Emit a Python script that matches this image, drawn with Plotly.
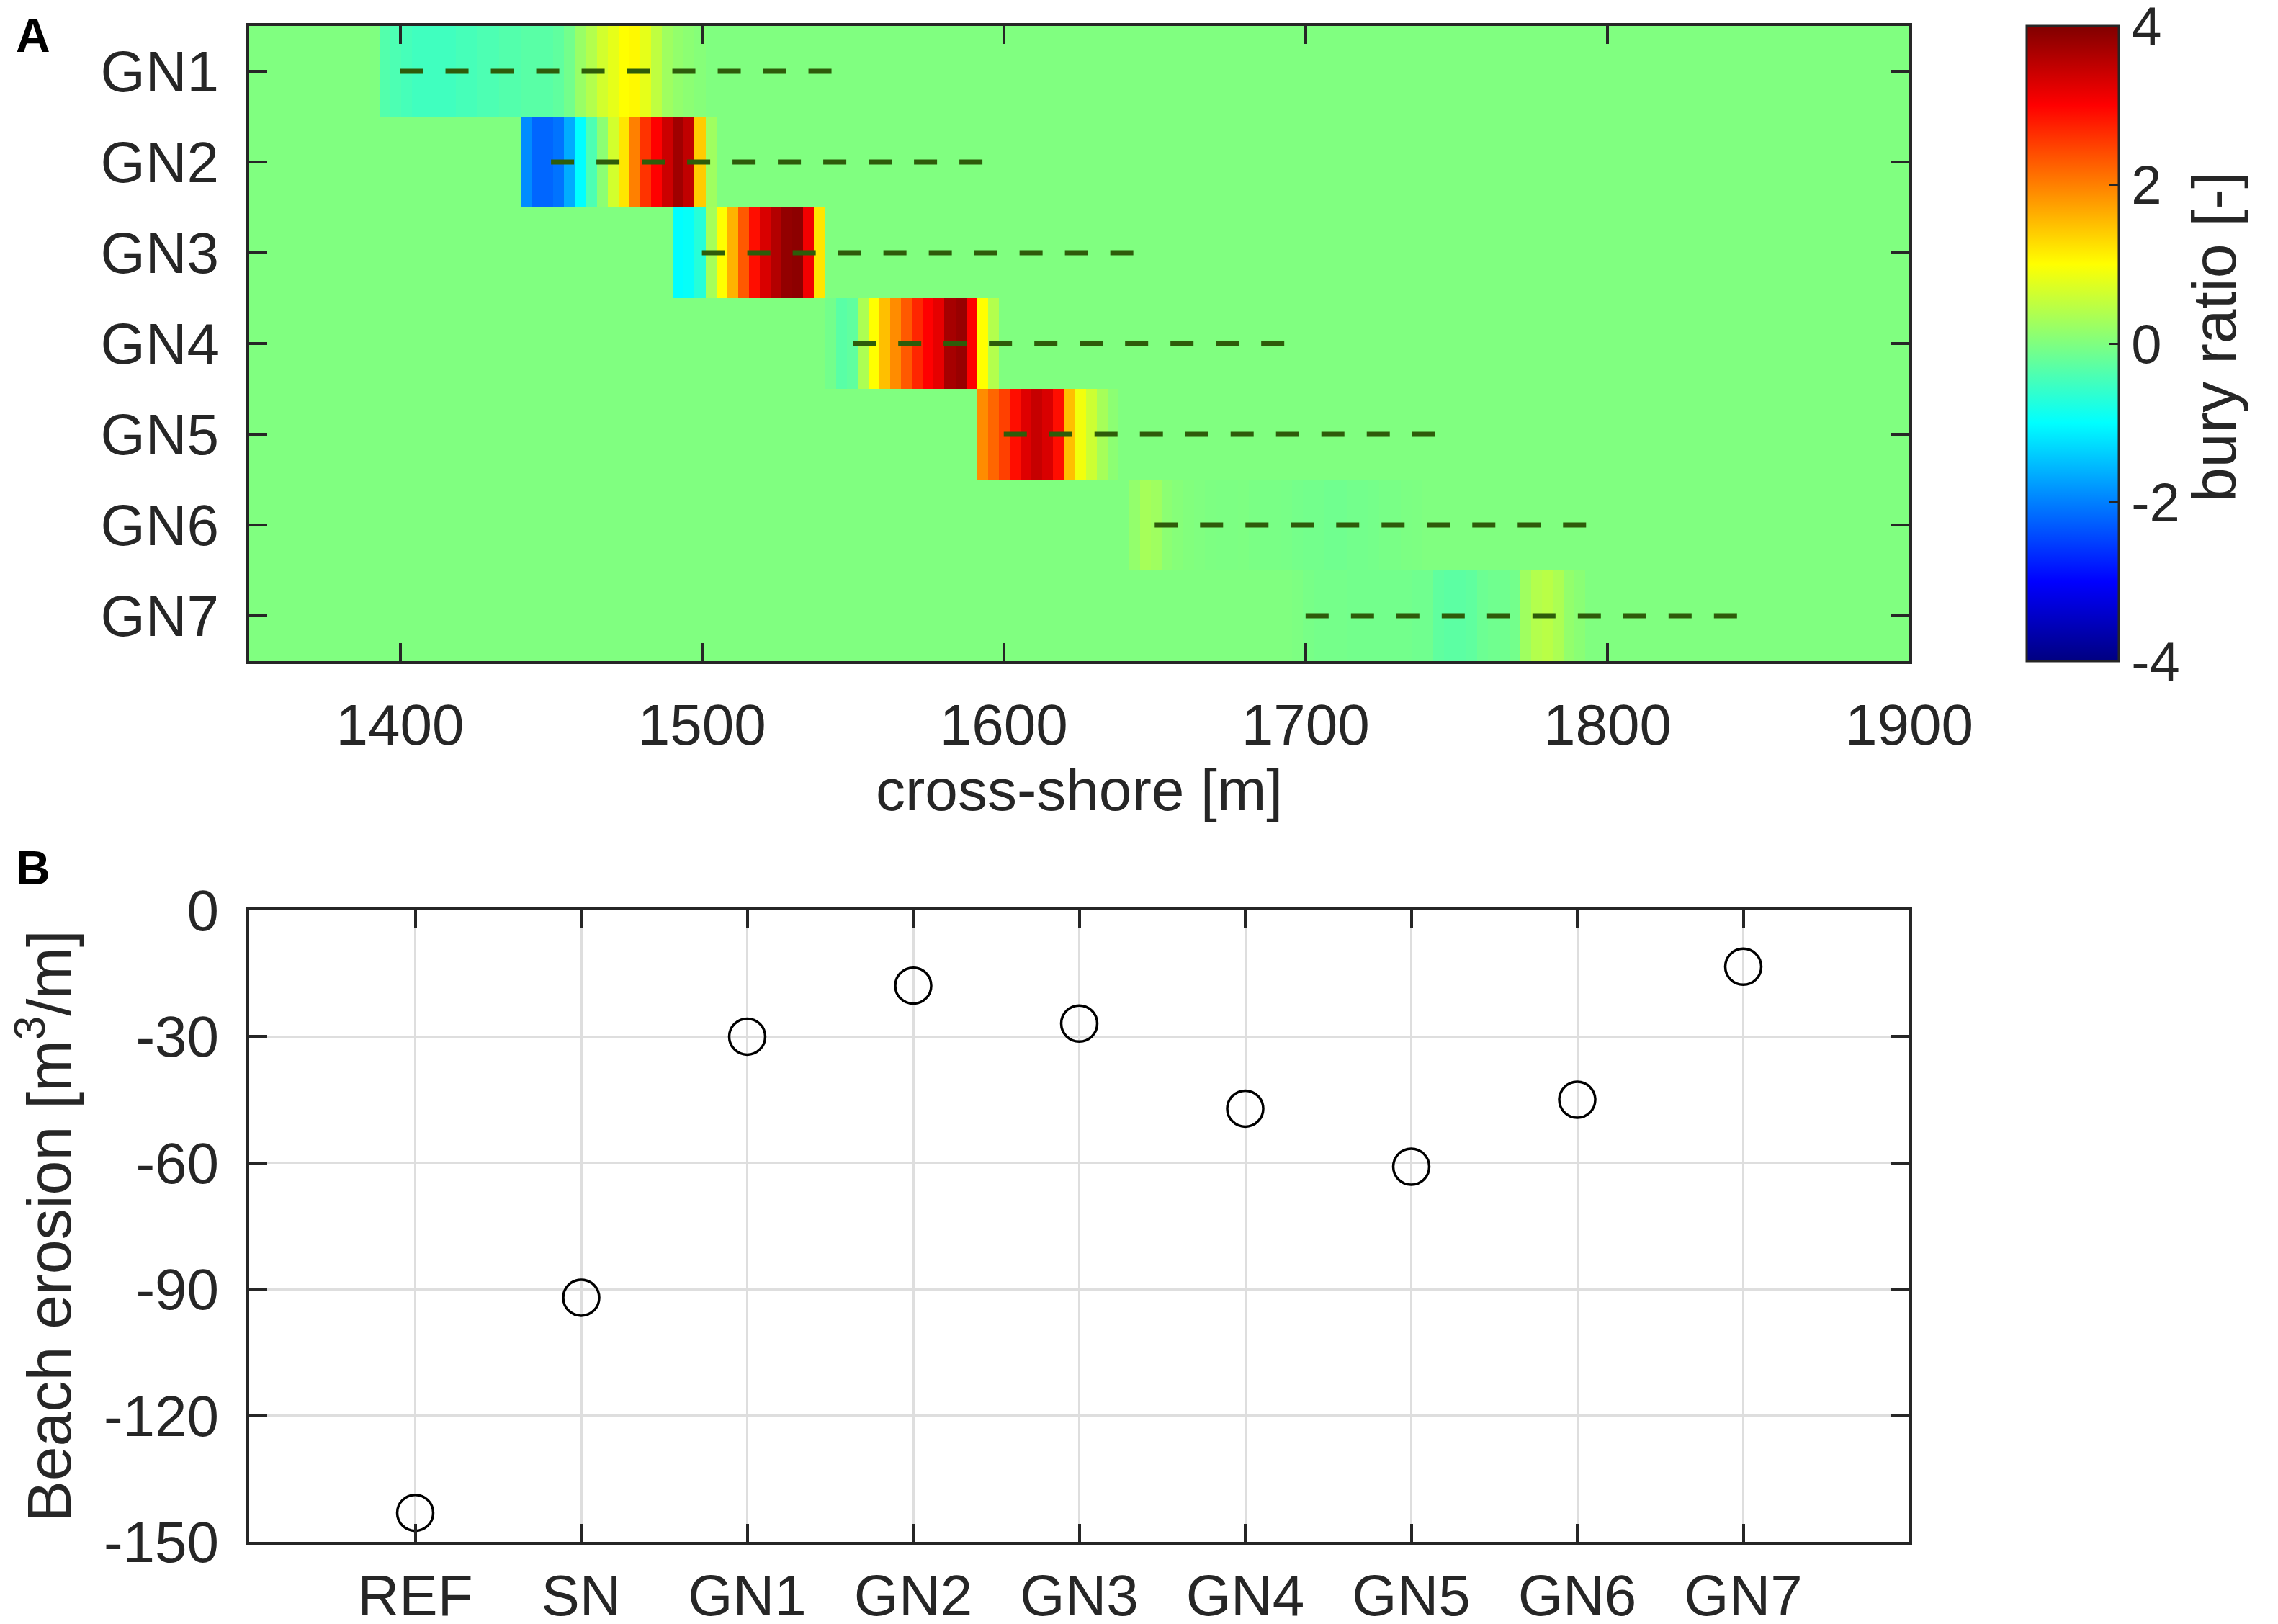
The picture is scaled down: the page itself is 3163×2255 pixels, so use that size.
import numpy as np
import plotly.graph_objects as go

# ---------------- Panel A data: bury ratio profiles ----------------
groins = ["GN1", "GN2", "GN3", "GN4", "GN5", "GN6", "GN7"]
grid_x0 = 1350.0      # cross-shore grid origin [m]
grid_dx = 3.6         # cross-shore cell size [m]
grid_n = 153          # number of cells
row_start = [1393.2, 1440.0, 1490.4, 1540.8, 1591.2, 1641.6, 1695.6]

gn1_ratio = [-0.35, -0.4, -0.45, -0.5, -0.5, -0.5, -0.5, -0.45, -0.45, -0.4,
             -0.4, -0.35, -0.35, -0.3, -0.3, -0.3, -0.25, -0.1, 0.2, 0.4,
             0.65, 0.8, 1.0, 1.05, 0.8, 0.5, 0.25, 0.15, 0.1, 0.05]
gn2_ratio = [-1.9, -2.2, -2.2, -2.1, -1.65, -1.0, -0.4, 0.1, 0.65, 1.2,
             2.0, 2.6, 3.0, 3.4, 3.75, 3.5, 1.4, 0.25]
gn3_ratio = [-1.0, -0.95, -0.7, 0.3, 1.0, 1.6, 2.3, 2.9, 3.3, 3.6,
             3.85, 3.9, 3.1, 1.2]
gn4_ratio = [-0.1, -0.3, -0.25, 0.35, 1.0, 1.5, 1.9, 2.3, 2.7, 3.0,
             3.2, 3.7, 3.8, 3.0, 1.0, 0.4]
gn5_ratio = [1.9, 2.2, 2.5, 2.9, 3.25, 3.45, 3.3, 2.9, 1.5, 0.9,
             0.6, 0.3, 0.1]
gn6_ratio = [0.15, 0.3, 0.25, 0.1, 0.05, 0.02, 0.0, -0.02, -0.03, -0.03,
             -0.02, -0.04, -0.05, -0.05, -0.06, -0.08, -0.1, -0.1, -0.12, -0.12,
             -0.1, -0.1, -0.08, -0.06, -0.05, -0.03, -0.02]
gn7_ratio = [-0.02, -0.06, -0.08, -0.08, -0.08, -0.1, -0.1, -0.1, -0.1, -0.1,
             -0.1, -0.12, -0.12, -0.25, -0.28, -0.28, -0.25, -0.15, -0.12, -0.12,
             -0.1, 0.25, 0.4, 0.45, 0.35, 0.15, 0.08]

groin_start = [1400, 1450, 1500, 1550, 1600, 1650, 1700]
groin_end = [1550, 1600, 1650, 1700, 1750, 1800, 1850]

xticks_a = [1400, 1500, 1600, 1700, 1800, 1900]
cbar_ticks = [-4, -2, 0, 2, 4]
cbar_ticktext = ["-4", "-2", "0", "2", "4"]

# ---------------- Panel B data: beach erosion ----------------
scenarios = ["REF", "SN", "GN1", "GN2", "GN3", "GN4", "GN5", "GN6", "GN7"]
erosion = [-143.1, -92.0, -30.0, -17.9, -26.9, -47.1, -60.9, -45.0, -13.4]
yticks_b = [-150, -120, -90, -60, -30, 0]
yticktext_b = ["-150", "-120", "-90", "-60", "-30", "0"]

# ---------------- build heatmap matrix ----------------
rows = [gn1_ratio, gn2_ratio, gn3_ratio, gn4_ratio, gn5_ratio, gn6_ratio, gn7_ratio]
z = np.zeros((len(groins), grid_n))
for i, (s, vals) in enumerate(zip(row_start, rows)):
    k0 = int(round((s - grid_x0) / grid_dx))
    z[i, k0:k0 + len(vals)] = vals
x_centers = grid_x0 + grid_dx * (np.arange(grid_n) + 0.5)
y_rows = list(range(1, len(groins) + 1))

jet = [
    [0.0, "rgb(0,0,128)"],
    [0.125, "rgb(0,0,255)"],
    [0.375, "rgb(0,255,255)"],
    [0.625, "rgb(255,255,0)"],
    [0.875, "rgb(255,0,0)"],
    [1.0, "rgb(128,0,0)"],
]

W, H = 3163, 2255
ML, MR, MT, MB = 338, W - 2643, 28, H - 2133
PW, PH = W - ML - MR, H - MT - MB
FONT = "Liberation Sans, Arial, sans-serif"
AX = "#262626"
TICK_FS = 80


def fx(p):   # pixel x -> plot-area fraction
    return (p - ML) / PW


def fy(p):   # pixel y -> plot-area fraction
    return (H - MB - p) / PH


fig = go.Figure()

fig.add_trace(go.Heatmap(
    x=x_centers, y=y_rows, z=z, coloraxis="coloraxis",
    xaxis="x", yaxis="y", hoverinfo="skip", zsmooth=False,
))

for i, name in enumerate(groins):
    fig.add_trace(go.Scatter(
        x=[groin_start[i], groin_end[i]], y=[y_rows[i], y_rows[i]],
        mode="lines", line=dict(color="rgb(46,92,10)", width=7, dash="32px,31px"),
        xaxis="x", yaxis="y", showlegend=False, hoverinfo="skip",
    ))

fig.add_trace(go.Scatter(
    x=list(range(1, len(scenarios) + 1)), y=erosion, mode="markers",
    marker=dict(symbol="circle-open", size=50, color="black", line=dict(width=3.5, color="black")),
    xaxis="x2", yaxis="y2", showlegend=False,
))

axis_common = dict(
    showline=True, linewidth=4, linecolor=AX, mirror="ticks",
    ticks="inside", ticklen=25, tickwidth=4, tickcolor=AX,
    tickfont=dict(size=TICK_FS, color=AX, family=FONT), zeroline=False,
    automargin=False,
)

fig.update_layout(
    width=W, height=H,
    margin=dict(l=ML, r=MR, t=MT, b=MB, autoexpand=False),
    paper_bgcolor="white", plot_bgcolor="white",
    font=dict(family=FONT, color=AX),
    showlegend=False,
    xaxis=dict(domain=[0, 1], anchor="y", range=[1350, 1900],
               tickvals=xticks_a, ticklabelstandoff=16,
               title=dict(text="cross-shore [m]", font=dict(size=82, family=FONT, color=AX), standoff=12),
               showgrid=False, **axis_common),
    yaxis=dict(domain=[fy(910), 1], anchor="x", range=[7.5, 0.5],
               tickvals=y_rows, ticktext=groins, ticklabelstandoff=22,
               showgrid=False, **axis_common),
    xaxis2=dict(domain=[0, 1], anchor="y2", range=[0, 10],
                tickvals=list(range(1, len(scenarios) + 1)), ticktext=scenarios,
                ticklabelstandoff=2,
                showgrid=True, gridcolor="#dedede", gridwidth=2.5, **axis_common),
    yaxis2=dict(domain=[0, fy(1256)], anchor="x2", range=[-150, 0],
                tickvals=yticks_b, ticktext=yticktext_b, ticklabelstandoff=22,
                showgrid=True, gridcolor="#dedede", gridwidth=3,
                title=dict(text="Beach erosion [m<sup>3</sup>/m]", font=dict(size=86, family=FONT, color=AX), standoff=20),
                **axis_common),
    coloraxis=dict(
        cmin=-4, cmax=4, colorscale=jet,
        colorbar=dict(
            x=fx(2806), xanchor="left", xref="paper", xpad=0, ypad=0,
            thickness=128, thicknessmode="pixels",
            len=882, lenmode="pixels", y=1, yanchor="top", yref="paper",
            outlinewidth=3, outlinecolor=AX,
            ticks="inside", ticklen=14, tickwidth=3, tickcolor=AX,
            tickvals=cbar_ticks, ticktext=cbar_ticktext, ticklabeloverflow="allow",
            tickfont=dict(size=76, color=AX, family=FONT),
        ),
    ),
    annotations=[
        dict(text="<b>A</b>", x=fx(12), y=fy(2), xref="paper", yref="paper",
             xanchor="left", yanchor="top", showarrow=False, font=dict(size=66, color="black", family=FONT)),
        dict(text="<b>B</b>", x=fx(12), y=fy(1158), xref="paper", yref="paper",
             xanchor="left", yanchor="top", showarrow=False, font=dict(size=66, color="black", family=FONT)),
        dict(text="bury ratio [-]", x=fx(3066), y=fy(460), xref="paper", yref="paper",
             xanchor="center", yanchor="middle", textangle=-90, showarrow=False,
             font=dict(size=86, color=AX, family=FONT)),
    ],
)

fig.write_html("out.html")
